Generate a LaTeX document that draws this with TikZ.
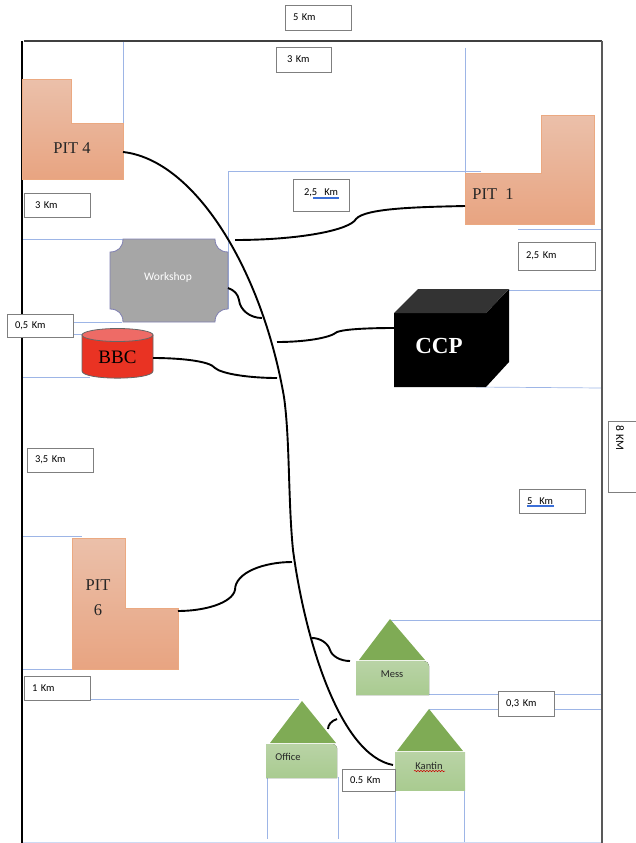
\documentclass[tikz,border=0pt]{standalone}
\usepackage{fontspec}
\setmainfont{Carlito}
\newfontfamily\timesfont{Liberation Serif}
\usetikzlibrary{decorations.pathmorphing}
\definecolor{guideblue}{HTML}{9DB5E6}
\definecolor{boxgray}{HTML}{7F7F7F}
\definecolor{pitlight}{HTML}{EBC0AA}
\definecolor{pitdark}{HTML}{E8A481}
\definecolor{pitedge}{HTML}{EBA981}
\definecolor{roofgreen}{HTML}{7FAB55}
\definecolor{walllight}{HTML}{B9D3A6}
\definecolor{walldark}{HTML}{A9CB90}
\definecolor{tankred}{HTML}{E93323}
\definecolor{tanktop}{HTML}{EE6B66}
\definecolor{spellblue}{HTML}{3B6FD8}
\tikzset{
  guide/.style={guideblue, line width=0.7pt},
  frameline/.style={line width=1.2pt},
  road/.style={black, line width=1.9pt},
  kmbox/.style={draw=boxgray, fill=white, line width=0.8pt, inner ysep=0pt, font=\fontsize{10.5}{12}\selectfont, align=left},
  pit/.style={draw=pitedge, line width=0.6pt, top color=pitlight, bottom color=pitdark},
  pitname/.style={font=\timesfont\fontsize{16.5}{25}\selectfont, align=center, text=black!85},
  roof/.style={fill=roofgreen},
  wall/.style={top color=walllight, bottom color=walldark},
  housename/.style={font=\fontsize{10.5}{12}\selectfont, text=black!85},
  spellmark/.style={draw=spellblue, line width=0.7pt}
}
\begin{document}
\begin{tikzpicture}[x=1pt,y=-1pt]
  \useasboundingbox (0,0) rectangle (636,843);
  % guide lines
  \draw[guide] (123,41) -- (123,123);
  \draw[guide] (22,179) -- (75,179);
  \draw[guide] (22,239) -- (130,239);
  \draw[guide] (481,171) -- (228,171) -- (228,309);
  \draw[guide] (465,48) -- (465,185);
  \draw[guide] (518,229.5) -- (602,229.5);
  \draw[guide] (509,290) -- (602,290);
  \draw[guide] (476,387) -- (602,388);
  \draw[guide] (73,322) -- (122,322);
  \draw[guide] (73,334) -- (90,334);
  \draw[guide] (22,377) -- (90,377);
  \draw[guide] (22,536.5) -- (82,536.5);
  \draw[guide] (22,669.5) -- (80,669.5);
  \draw[guide] (24,699) -- (299,699);
  \draw[guide] (267,778) -- (267,839);
  \draw[guide] (338,777) -- (338,839);
  \draw[guide] (395,790) -- (395,842);
  \draw[guide] (464,790) -- (464,842);
  \draw[guide] (390,620.5) -- (602,620.5);
  \draw[guide] (429,694) -- (602,694);
  \draw[guide] (429,709) -- (602,709);
  \draw[guide, guideblue!50] (22,842) -- (602,842);
  % site frame
  \draw[frameline, black!75] (24,41) -- (602,41);
  \draw[frameline, black] (22,41) -- (22,843);
  \draw[frameline, black!65] (602,41) -- (602,843);
  % pits
  \fill[pit] (22,79) -- (71,79) -- (71,123) -- (123,123) -- (123,179) -- (22,179) -- cycle;
  \node[pitname] (pitfour) at (72,148) {PIT 4};
  \fill[pit] (465,173) -- (541,173) -- (541,115) -- (594,115) -- (594,224) -- (465,224) -- cycle;
  \node[pitname] (pitone) at (493,194) {PIT\ \ 1};
  \fill[pit] (72,538) -- (125,538) -- (125,608) -- (178,608) -- (178,669) -- (72,669) -- cycle;
  \node[pitname] (pitsix) at (98,598) {PIT\\6};
  % workshop
  \draw[fill=black!35, draw=black!60!blue!50, line width=0.8pt] (123,239) -- (215,239)
    .. controls (215,247) and (220,252) .. (228,252) -- (228,309)
    .. controls (220,309) and (215,314) .. (215,322) -- (123,322)
    .. controls (123,314) and (118,309) .. (110,309) -- (110,252)
    .. controls (118,252) and (123,247) .. (123,239) -- cycle;
  \node[font=\fontsize{11.5}{13}\selectfont, text=white] (workshop) at (168,277) {Workshop};
  % bbc tank
  \draw[fill=tankred, draw=black!60, line width=0.8pt] (82,335) -- (82,371)
    .. controls (82,380.5) and (153,380.5) .. (153,371) -- (153,335) -- cycle;
  \draw[fill=tanktop, draw=black!60, line width=0.8pt] (117.5,335) ellipse [x radius=35.5, y radius=6.5];
  \node[font=\timesfont\fontsize{19}{21}\selectfont] (bbc) at (117.5,357) {BBC};
  % ccp cube
  \fill[black] (394,313) -- (486,313) -- (509,289) -- (509,362) -- (486,387) -- (394,387) -- cycle;
  \fill[black!80] (394,313) -- (418,289) -- (509,289) -- (486,313) -- cycle;
  \node[font=\timesfont\bfseries\fontsize{23}{25}\selectfont, text=white] (ccp) at (439,346) {CCP};
  % houses
  \fill[roof] (390,619) -- (425,660) -- (359,660) -- cycle;
  \fill[wall] (356,661) -- (424,661) .. controls (427,661) and (429,663) .. (429,666) -- (429,695) -- (356,695) -- cycle;
  \node[housename] (mess) at (392,674) {Mess};
  \fill[roof] (302,701) -- (336,743) -- (270,743) -- cycle;
  \fill[wall] (266,744) -- (333,744) .. controls (335,744) and (337,746) .. (337,748) -- (337,778) -- (266,778) -- cycle;
  \node[housename] (office) at (288,757) {Office};
  \fill[roof] (429,709) -- (463,751) -- (397,751) -- cycle;
  \fill[wall] (395,752) rectangle (465,790);
  \node[housename] (kantin) at (429,766) {Kantin};
  \draw[red!80!black, line width=0.5pt, decorate, decoration={snake, amplitude=0.7pt, segment length=3pt}] (414,771) -- (445,771);
  % road ends
  \coordinate (roadpitfour) at (123,152);
  \coordinate (roadkantin) at (393,765);
  \coordinate (roadpitone) at (465,206);
  \coordinate (mainone) at (235,240);
  \coordinate (roadccp) at (394,328);
  \coordinate (mainccp) at (277,342);
  \coordinate (roadworkshop) at (228,288);
  \coordinate (mainworkshop) at (262,318);
  \coordinate (roadbbc) at (153,358);
  \coordinate (mainbbc) at (277,378);
  \coordinate (roadpitsix) at (178,611);
  \coordinate (mainsix) at (292,562);
  \coordinate (roadmess) at (350,661);
  \coordinate (mainmess) at (312,638);
  \coordinate (roadoffice) at (328,729);
  \coordinate (mainoffice) at (337,719);
  % roads
  \draw[road] (roadpitfour) .. controls (195,160) and (262,270) .. (284,397)
    .. controls (290,440) and (288,500) .. (293,550)
    .. controls (305,640) and (340,755) .. (roadkantin);
  \draw[road] (roadpitone) .. controls (420,207) and (365,208) .. (356,219)
    .. controls (350,230) and (300,240) .. (mainone);
  \draw[road] (roadccp) .. controls (370,328) and (345,329) .. (337,332)
    .. controls (330,338) and (305,342) .. (mainccp);
  \draw[road] (roadworkshop) .. controls (234,290) and (238,294) .. (239,300)
    .. controls (240,310) and (250,318) .. (mainworkshop);
  \draw[road] (roadbbc) .. controls (180,358) and (210,361) .. (215,368)
    .. controls (222,374) and (250,378) .. (mainbbc);
  \draw[road] (roadpitsix) .. controls (205,611) and (232,603) .. (235,590)
    .. controls (235,572) and (265,562) .. (mainsix);
  \draw[road] (roadmess) .. controls (340,661) and (332,656) .. (330,650)
    .. controls (328,643) and (320,638) .. (mainmess);
  \draw[road] (roadoffice) .. controls (328,725) and (331,721) .. (mainoffice);
  % distance labels
  \node[kmbox, inner xsep=8pt, text width=50pt, minimum height=25pt] (kmtop) at (318,17.5) {5 Km};
  \node[kmbox, inner xsep=11pt, text width=33pt, minimum height=25pt] (kmthree) at (303.5,59.5) {3 Km};
  \node[kmbox, inner xsep=11pt, text width=34pt, minimum height=32pt, text depth=6pt] (kmmid) at (321,195) {2,5\ \ Km};
  \node[kmbox, inner xsep=11pt, text width=44pt, minimum height=24pt] (kmfour) at (57,205) {3 Km};
  \node[kmbox, inner xsep=8pt, text width=50pt, minimum height=23pt] (kmbbc) at (40,325.5) {0,5 Km};
  \node[kmbox, inner xsep=8pt, text width=61pt, minimum height=28pt] (kmone) at (556.5,256) {2,5 Km};
  \node[kmbox, inner xsep=8pt, text width=50pt, minimum height=24pt] (kmsix) at (60,460) {3,5 Km};
  \node[kmbox, inner xsep=8pt, text width=50pt, minimum height=24pt] (kmfive) at (552,501) {5\ \ Km};
  \node[kmbox, inner xsep=8pt, text width=50pt, minimum height=24pt] (kmoff) at (57,688) {1 Km};
  \node[kmbox, inner xsep=8pt, text width=40pt, minimum height=25pt] (kmmess) at (526,703.5) {0,3 Km};
  \node[kmbox, inner xsep=8pt, text width=37pt, minimum height=22pt] (kmkantin) at (368.5,780) {0.5 Km};
  \draw[draw=boxgray, fill=white, line width=0.8pt] (640,421) -- (608,421) -- (608,492) -- (640,492);
  \node[font=\fontsize{11.5}{13}\selectfont, rotate=-90] (kmeight) at (620,438) {8 KM};
  % spelling marks
  \draw[spellmark] (313,197) -- (339,197);
  \draw[spellmark] (313,198.5) -- (339,198.5);
  \draw[spellmark] (527,505) -- (554,505);
  \draw[spellmark] (527,506.5) -- (554,506.5);
\end{tikzpicture}
\end{document}
